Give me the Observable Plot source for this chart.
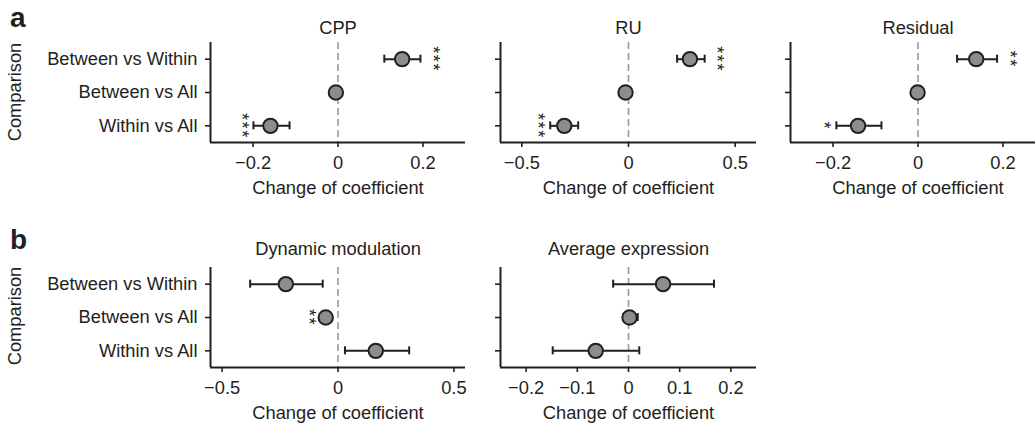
<!DOCTYPE html>
<html><head><meta charset="utf-8">
<script src="https://cdn.jsdelivr.net/npm/d3@7"></script>
<script src="https://cdn.jsdelivr.net/npm/@observablehq/plot@0.6"></script>
<style>
body{margin:0;background:#fff;}
#fig{position:relative;width:1035px;height:424px;overflow:hidden;font-family:"Liberation Sans",Arial,sans-serif;color:#231f20;background:#fff;}
.abs{position:absolute;line-height:1;white-space:nowrap;}
.letter{font-weight:bold;font-size:28px;}
.ylab{font-size:18.3px;transform:translate(-50%,-50%) rotate(-90deg);}
</style></head><body><div id="fig"></div>
<script>
// ---- data ----
const comparisons = ["Between vs Within", "Between vs All", "Within vs All"];
const panelTitles = ["CPP", "RU", "Residual", "Dynamic modulation", "Average expression"];
const xLabel = "Change of coefficient";
const yLabel = "Comparison";

const cppEst = [0.151, -0.005, -0.159];
const cppLo = [0.109, -0.012, -0.199];
const cppHi = [0.194, 0.002, -0.114];
const cppStars = ["***", "", "***"];
const cppStarX = [0.234, null, -0.216];

const ruEst = [0.288, -0.014, -0.301];
const ruLo = [0.228, -0.025, -0.367];
const ruHi = [0.357, -0.003, -0.236];
const ruStars = ["***", "", "***"];
const ruStarX = [0.436, null, -0.404];

const resEst = [0.137, -0.001, -0.141];
const resLo = [0.092, -0.008, -0.192];
const resHi = [0.186, 0.006, -0.086];
const resStars = ["**", "", "*"];
const resStarX = [0.227, null, -0.210];

const dynEst = [-0.225, -0.053, 0.163];
const dynLo = [-0.379, -0.062, 0.030];
const dynHi = [-0.066, -0.044, 0.307];
const dynStars = ["", "**", ""];
const dynStarX = [null, -0.106, null];

const avgEst = [0.0675, 0.002, -0.064];
const avgLo = [-0.030, -0.010, -0.148];
const avgHi = [0.167, 0.018, 0.021];
const avgStars = ["", "", ""];
const avgStarX = [null, null, null];

const domCPP = [-0.3, 0.3], ticksCPP = [-0.2, 0, 0.2];
const domRU = [-0.6, 0.6], ticksRU = [-0.5, 0, 0.5];
const domRes = [-0.3, 0.3], ticksRes = [-0.2, 0, 0.2];
const domDyn = [-0.55, 0.55], ticksDyn = [-0.5, 0, 0.5];
const domAvg = [-0.25, 0.25], ticksAvg = [-0.2, -0.1, 0, 0.1, 0.2];

// ---- drawing ----
const INK = "#231f20";
const FONT = "'Liberation Sans', Arial, sans-serif";
const FS = 18.3;
const fig = document.getElementById("fig");
const fmt = v => v === 0 ? "0" : d3.format(".1f")(v);

function panel(o) {
  const H = 100, W = o.W;
  const mL = o.showLabels ? o.L : 30, mT = 45, mB = 65, mR = 12;
  const rows = comparisons.map((c, i) => ({c, i, est: o.est[i], lo: o.lo[i], hi: o.hi[i], sx: o.starX[i], s: o.stars[i]}));
  const starRows = rows.filter(d => d.s);
  const p = Plot.plot({
    width: mL + W + mR, height: mT + H + mB,
    marginLeft: mL, marginRight: mR, marginTop: mT, marginBottom: mB,
    style: {fontFamily: FONT, fontSize: FS + "px", color: INK, background: "transparent", overflow: "visible", maxWidth: "none"},
    x: {domain: o.domain},
    y: {domain: [2.5, -0.5]},
    marks: [
      Plot.ruleX([0], {stroke: "#9b9b9b", strokeWidth: 1.6, strokeDasharray: "7,4"}),
      Plot.ruleY(rows, {y: "i", x1: "lo", x2: "hi", stroke: INK, strokeWidth: 2}),
      Plot.ruleX(rows, {x: "lo", y1: d => d.i - 0.12, y2: d => d.i + 0.12, stroke: INK, strokeWidth: 2}),
      Plot.ruleX(rows, {x: "hi", y1: d => d.i - 0.12, y2: d => d.i + 0.12, stroke: INK, strokeWidth: 2}),
      Plot.dot(rows, {x: "est", y: "i", r: 7.2, fill: "#8c8d90", stroke: INK, strokeWidth: 2}),
      Plot.text(starRows, {x: "sx", y: "i", text: "s", rotate: 90, dx: -4.5, textAnchor: "middle", lineAnchor: "middle", fontSize: FS, fill: INK}),
      Plot.ruleX([o.domain[0]], {stroke: INK, strokeWidth: 2}),
      Plot.ruleY([2.5], {stroke: INK, strokeWidth: 2}),
      Plot.axisX({ticks: o.ticks, tickFormat: fmt, tickSize: 5, tickPadding: 8, label: null, strokeWidth: 1.6, stroke: INK}),
      Plot.axisY({ticks: [0, 1, 2], tickFormat: i => o.showLabels ? comparisons[i] : "", tickSize: 5, tickPadding: 8, label: null, strokeWidth: 1.6, stroke: INK}),
      Plot.text([o.title], {frameAnchor: "top", dy: o.titleDy, lineAnchor: "middle", fontSize: FS, fill: INK}),
      Plot.text([xLabel], {frameAnchor: "bottom", dy: 46, lineAnchor: "middle", fontSize: FS, fill: INK})
    ]
  });
  // slightly wider spacing between stacked significance stars
  p.querySelectorAll("text").forEach(t => {
    if (/^\*+$/.test(t.textContent)) t.style.letterSpacing = "1.5px";
  });
  p.style.position = "absolute";
  p.style.left = (o.L - mL) + "px";
  p.style.top = (o.T - mT) + "px";
  fig.appendChild(p);
}

const TA = 42.3, TB = 266.7;
panel({title: panelTitles[0], est: cppEst, lo: cppLo, hi: cppHi, stars: cppStars, starX: cppStarX, domain: domCPP, ticks: ticksCPP, L: 210, T: TA, W: 255, showLabels: true, titleDy: -14.3});
panel({title: panelTitles[1], est: ruEst, lo: ruLo, hi: ruHi, stars: ruStars, starX: ruStarX, domain: domRU, ticks: ticksRU, L: 500, T: TA, W: 256, showLabels: false, titleDy: -14.3});
panel({title: panelTitles[2], est: resEst, lo: resLo, hi: resHi, stars: resStars, starX: resStarX, domain: domRes, ticks: ticksRes, L: 790, T: TA, W: 255, showLabels: false, titleDy: -14.3});
panel({title: panelTitles[3], est: dynEst, lo: dynLo, hi: dynHi, stars: dynStars, starX: dynStarX, domain: domDyn, ticks: ticksDyn, L: 210, T: TB, W: 255, showLabels: true, titleDy: -18});
panel({title: panelTitles[4], est: avgEst, lo: avgLo, hi: avgHi, stars: avgStars, starX: avgStarX, domain: domAvg, ticks: ticksAvg, L: 500, T: TB, W: 256, showLabels: false, titleDy: -18});

function label(txt, cls, css) {
  const d = document.createElement("div");
  d.className = "abs " + cls;
  d.textContent = txt;
  Object.assign(d.style, css);
  fig.appendChild(d);
}
label("a", "letter", {left: "10px", top: "4px"});
label("b", "letter", {left: "10px", top: "226px"});
label(yLabel, "ylab", {left: "15px", top: "92px"});
label(yLabel, "ylab", {left: "15px", top: "316px"});
</script></body></html>
